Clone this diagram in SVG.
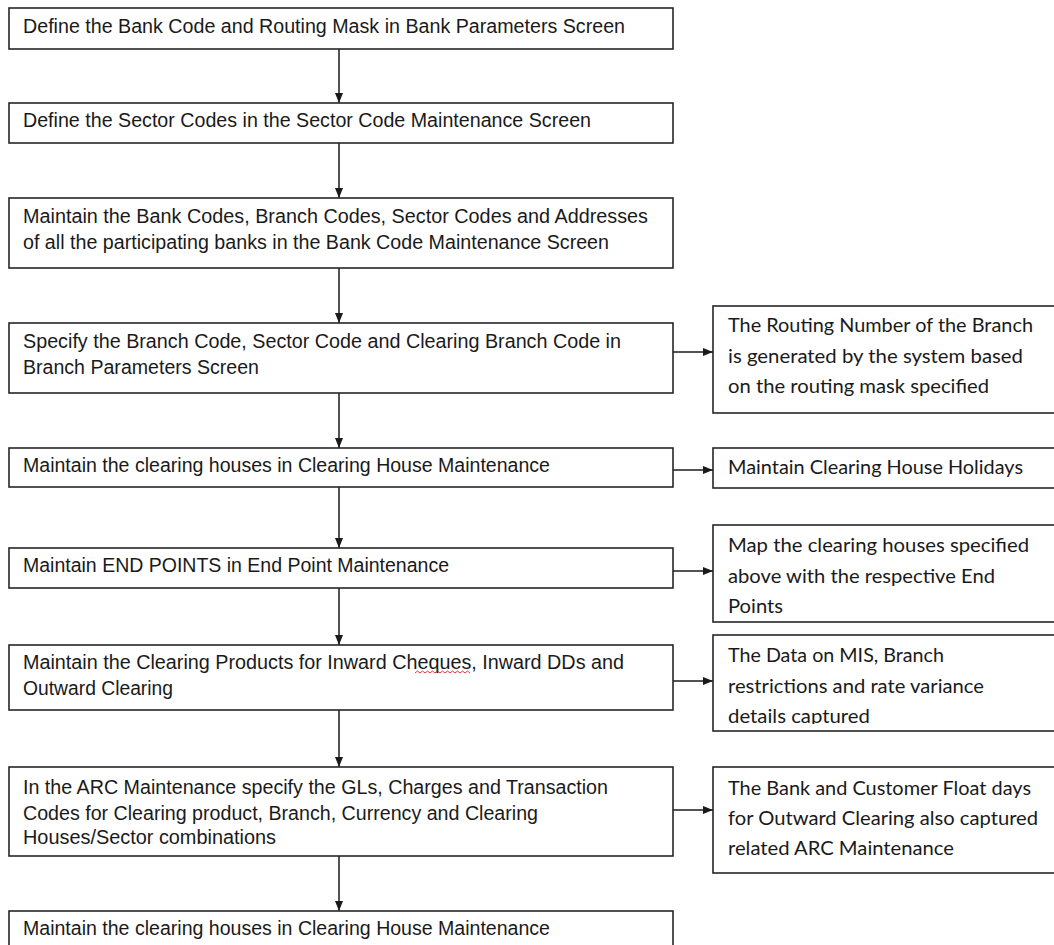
<svg xmlns="http://www.w3.org/2000/svg" width="1054" height="945" viewBox="0 0 1054 945">
<style>
.box{fill:#ffffff;stroke:#262626;stroke-width:1.6}
.lt{font-family:"Liberation Sans",Arial,sans-serif;font-size:20px;fill:#1a1a1a}
.rt{font-family:Lato,"Open Sans",sans-serif;font-size:18.5px;fill:#1a1a1a}
.conn{stroke:#1a1a1a;stroke-width:1.5;fill:none}
</style>
<defs>
<marker id="ah" viewBox="0 0 10 8" refX="10" refY="4" markerWidth="10" markerHeight="8" markerUnits="userSpaceOnUse" orient="auto">
<path d="M0,0 L10,4 L0,8 z" fill="#1a1a1a"/>
</marker>
<clipPath id="clipR4"><rect x="713" y="635" width="345" height="89"/></clipPath>
</defs>
<rect width="1054" height="945" fill="#ffffff"/>

<g id="connectors">
<line class="conn" x1="339" y1="49" x2="339" y2="103" marker-end="url(#ah)"/>
<line class="conn" x1="339" y1="143" x2="339" y2="198" marker-end="url(#ah)"/>
<line class="conn" x1="339" y1="268" x2="339" y2="323" marker-end="url(#ah)"/>
<line class="conn" x1="339" y1="393" x2="339" y2="448" marker-end="url(#ah)"/>
<line class="conn" x1="339" y1="487" x2="339" y2="548" marker-end="url(#ah)"/>
<line class="conn" x1="339" y1="588" x2="339" y2="645" marker-end="url(#ah)"/>
<line class="conn" x1="339" y1="710" x2="339" y2="767" marker-end="url(#ah)"/>
<line class="conn" x1="339" y1="856" x2="339" y2="911" marker-end="url(#ah)"/>
<line class="conn" x1="673" y1="352" x2="713" y2="352" marker-end="url(#ah)"/>
<line class="conn" x1="673" y1="470" x2="713" y2="470" marker-end="url(#ah)"/>
<line class="conn" x1="673" y1="571" x2="713" y2="571" marker-end="url(#ah)"/>
<line class="conn" x1="673" y1="681" x2="713" y2="681" marker-end="url(#ah)"/>
<line class="conn" x1="673" y1="810" x2="713" y2="810" marker-end="url(#ah)"/>
</g>

<g id="n1">
<rect class="box" x="9" y="8" width="664" height="41"/>
<text class="lt" x="23" y="33" textLength="602" lengthAdjust="spacingAndGlyphs">Define the Bank Code and Routing Mask in Bank Parameters Screen</text>
</g>
<g id="n2">
<rect class="box" x="9" y="103" width="664" height="40"/>
<text class="lt" x="23" y="127" textLength="568" lengthAdjust="spacingAndGlyphs">Define the Sector Codes in the Sector Code Maintenance Screen</text>
</g>
<g id="n3">
<rect class="box" x="9" y="198" width="664" height="70"/>
<text class="lt" x="23" y="223" textLength="625" lengthAdjust="spacingAndGlyphs">Maintain the Bank Codes, Branch Codes, Sector Codes and Addresses</text>
<text class="lt" x="23" y="249" textLength="586" lengthAdjust="spacingAndGlyphs">of all the participating banks in the Bank Code Maintenance Screen</text>
</g>
<g id="n4">
<rect class="box" x="9" y="323" width="664" height="70"/>
<text class="lt" x="23" y="348" textLength="598" lengthAdjust="spacingAndGlyphs">Specify the Branch Code, Sector Code and Clearing Branch Code in</text>
<text class="lt" x="23" y="374" textLength="236" lengthAdjust="spacingAndGlyphs">Branch Parameters Screen</text>
</g>
<g id="n5">
<rect class="box" x="9" y="448" width="664" height="39"/>
<text class="lt" x="23" y="472" textLength="527" lengthAdjust="spacingAndGlyphs">Maintain the clearing houses in Clearing House Maintenance</text>
</g>
<g id="n6">
<rect class="box" x="9" y="548" width="664" height="40"/>
<text class="lt" x="23" y="572" textLength="426" lengthAdjust="spacingAndGlyphs">Maintain END POINTS in End Point Maintenance</text>
</g>
<g id="n7">
<rect class="box" x="9" y="645" width="664" height="65"/>
<text class="lt" x="23" y="669" textLength="601" lengthAdjust="spacingAndGlyphs">Maintain the Clearing Products for Inward Cheques, Inward DDs and</text>
<text class="lt" x="23" y="695" textLength="150" lengthAdjust="spacingAndGlyphs">Outward Clearing</text>
<path d="M415,673 l2.5,-2 l2.5,2 l2.5,-2 l2.5,2 l2.5,-2 l2.5,2 l2.5,-2 l2.5,2 l2.5,-2 l2.5,2 l2.5,-2 l2.5,2 l2.5,-2 l2.5,2 l2.5,-2 l2.5,2 l2.5,-2 l2.5,2 l2.5,-2 l2.5,2 l2.5,-2 l2.5,2" fill="none" stroke="#e02020" stroke-width="0.9"/>
</g>
<g id="n8">
<rect class="box" x="9" y="767" width="664" height="89"/>
<text class="lt" x="23" y="794" textLength="585" lengthAdjust="spacingAndGlyphs">In the ARC Maintenance specify the GLs, Charges and Transaction</text>
<text class="lt" x="23" y="820" textLength="515" lengthAdjust="spacingAndGlyphs">Codes for Clearing product, Branch, Currency and Clearing</text>
<text class="lt" x="23" y="844" textLength="253" lengthAdjust="spacingAndGlyphs">Houses/Sector combinations</text>
</g>
<g id="n9">
<rect class="box" x="9" y="911" width="664" height="60"/>
<text class="lt" x="23" y="935" textLength="527" lengthAdjust="spacingAndGlyphs">Maintain the clearing houses in Clearing House Maintenance</text>
</g>

<g id="r1">
<rect class="box" x="713" y="306" width="360" height="107"/>
<text class="rt" x="728" y="332" textLength="305" lengthAdjust="spacingAndGlyphs">The Routing Number of the Branch</text>
<text class="rt" x="728" y="363" textLength="295" lengthAdjust="spacingAndGlyphs">is generated by the system based</text>
<text class="rt" x="728" y="393" textLength="261" lengthAdjust="spacingAndGlyphs">on the routing mask specified</text>
</g>
<g id="r2">
<rect class="box" x="713" y="448" width="360" height="40"/>
<text class="rt" x="728" y="474" textLength="295" lengthAdjust="spacingAndGlyphs">Maintain Clearing House Holidays</text>
</g>
<g id="r3">
<rect class="box" x="713" y="525" width="360" height="97"/>
<text class="rt" x="728" y="552" textLength="301" lengthAdjust="spacingAndGlyphs">Map the clearing houses specified</text>
<text class="rt" x="728" y="583" textLength="267" lengthAdjust="spacingAndGlyphs">above with the respective End</text>
<text class="rt" x="728" y="613" textLength="55" lengthAdjust="spacingAndGlyphs">Points</text>
</g>
<g id="r4">
<rect class="box" x="713" y="635" width="360" height="96"/>
<text class="rt" x="728" y="662" textLength="216" lengthAdjust="spacingAndGlyphs">The Data on MIS, Branch</text>
<text class="rt" x="728" y="693" textLength="256" lengthAdjust="spacingAndGlyphs">restrictions and rate variance</text>
<text class="rt" x="728" y="723" textLength="142" lengthAdjust="spacingAndGlyphs" clip-path="url(#clipR4)">details captured</text>
</g>
<g id="r5">
<rect class="box" x="713" y="767" width="360" height="106"/>
<text class="rt" x="728" y="795" textLength="303" lengthAdjust="spacingAndGlyphs">The Bank and Customer Float days</text>
<text class="rt" x="728" y="825" textLength="310" lengthAdjust="spacingAndGlyphs">for Outward Clearing also captured</text>
<text class="rt" x="728" y="855" textLength="226" lengthAdjust="spacingAndGlyphs">related ARC Maintenance</text>
</g>
</svg>
